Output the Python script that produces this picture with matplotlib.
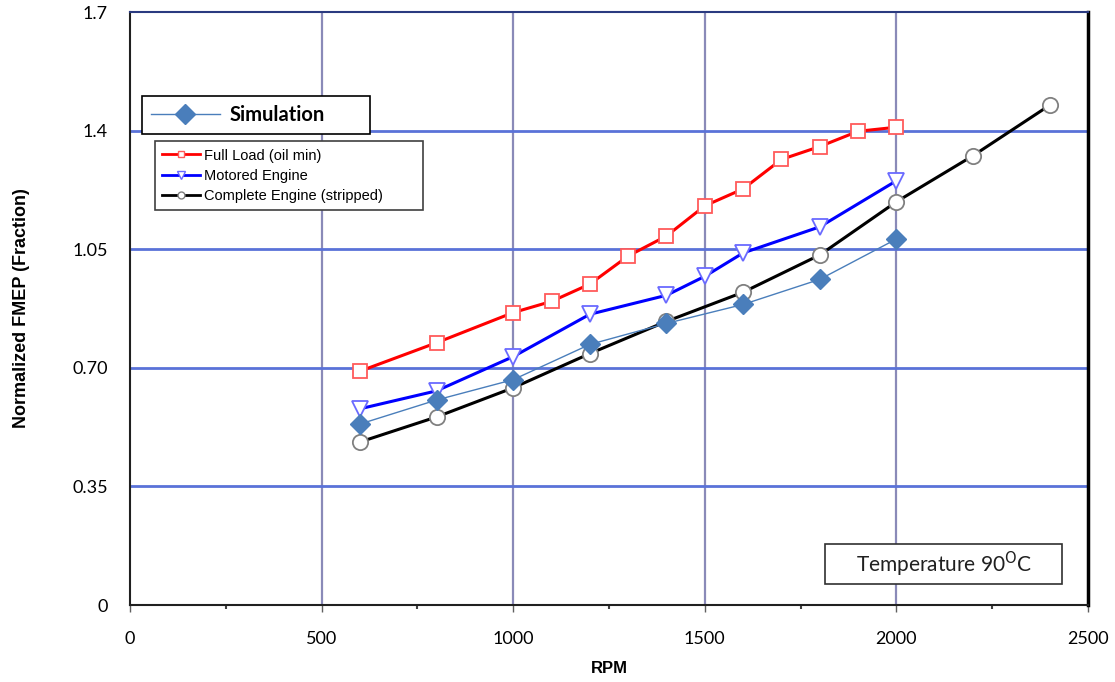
"""FMEP vs RPM comparison chart (normalized, 90 degC)."""
import matplotlib
matplotlib.use("Agg")
import matplotlib.pyplot as plt
from matplotlib.lines import Line2D
from matplotlib.patches import Rectangle
from matplotlib.ticker import MultipleLocator

# --- data ---
rpm_full = [600, 800, 1000, 1100, 1200, 1300, 1400, 1500, 1600, 1700, 1800, 1900, 2000]
fmep_full = [0.690, 0.774, 0.863, 0.896, 0.947, 1.030, 1.089, 1.178, 1.228, 1.315, 1.353, 1.398, 1.410]

rpm_motored = [600, 800, 1000, 1200, 1400, 1500, 1600, 1800, 2000]
fmep_motored = [0.579, 0.632, 0.733, 0.858, 0.914, 0.970, 1.039, 1.116, 1.252]

rpm_complete = [600, 800, 1000, 1200, 1400, 1600, 1800, 2000, 2200, 2400]
fmep_complete = [0.481, 0.555, 0.641, 0.742, 0.837, 0.923, 1.033, 1.190, 1.326, 1.475]

rpm_sim = [600, 800, 1000, 1200, 1400, 1600, 1800, 2000]
fmep_sim = [0.534, 0.605, 0.665, 0.769, 0.831, 0.887, 0.961, 1.080]

y_ticks = [0, 0.35, 0.70, 1.05, 1.4, 1.75]
y_tick_labels = ["0", "0.35", "0.70", "1.05", "1.4", "1.7"]
x_ticks = [0, 500, 1000, 1500, 2000, 2500]
x_tick_labels = ["0", "500", "1000", "1500", "2000", "2500"]

TICK_FONT = ["Lato", "DejaVu Sans"]
ARIAL = ["Liberation Sans", "DejaVu Sans"]

fig = plt.figure(figsize=(11.15, 6.82), dpi=100)
ax = fig.add_axes([0.1166, 0.1129, 0.8592, 0.8695])

ax.set_xlim(0, 2500)
ax.set_ylim(0, 1.75)

# grid
for xv in x_ticks[1:-1]:
    ax.axvline(xv, color="#8a8ab8", linewidth=1.6, zorder=1)
for yv in y_ticks[1:-1]:
    ax.axhline(yv, color="#5a72d8", linewidth=2.0, zorder=1)

ax.plot(rpm_full, fmep_full, color="#ff0000", linewidth=2.2, marker="s",
        markersize=10, markerfacecolor="white", markeredgecolor="#ff5a5a",
        markeredgewidth=1.3, zorder=3, label="Full Load (oil min)")
ax.plot(rpm_motored, fmep_motored, color="#0000ff", linewidth=2.2, marker="v",
        markersize=11, markerfacecolor="white", markeredgecolor="#6a6aff",
        markeredgewidth=1.3, zorder=3, label="Motored Engine")
ax.plot(rpm_complete, fmep_complete, color="#000000", linewidth=2.2, marker="o",
        markersize=11, markerfacecolor="white", markeredgecolor="#808080",
        markeredgewidth=1.3, zorder=3, label="Complete Engine (stripped)")
ax.plot(rpm_sim, fmep_sim, color="#4a7ebb", linewidth=1.0, marker="D",
        markersize=10, markerfacecolor="#4a7ebb", markeredgecolor="#4a7ebb",
        zorder=4, label="Simulation")

# ticks
ax.set_xticks(x_ticks)
ax.set_xticklabels(x_tick_labels, fontsize=13, family=TICK_FONT)
ax.xaxis.set_minor_locator(MultipleLocator(250))
ax.tick_params(axis="x", which="major", direction="out", length=5, width=1,
               color="#606060", pad=14)
ax.tick_params(axis="x", which="minor", direction="out", length=3, width=1.5,
               color="#404040")
ax.set_yticks(y_ticks)
ax.set_yticklabels(y_tick_labels, fontsize=13, family=TICK_FONT)
ax.tick_params(axis="y", length=0, pad=16)

ax.set_xlabel("RPM", fontsize=12, fontweight="bold", family=ARIAL, labelpad=10)
ax.set_ylabel("Normalized FMEP (Fraction)", fontsize=13, fontweight="bold",
              family=ARIAL)
ax.yaxis.set_label_coords(-0.104, 0.5)

for side in ["left", "bottom"]:
    ax.spines[side].set_color("#202020")
    ax.spines[side].set_linewidth(1.5)
ax.spines["right"].set_color("#000000")
ax.spines["right"].set_linewidth(2.5)
ax.spines["top"].set_color("#2a3a80")
ax.spines["top"].set_linewidth(1.5)

# legends
h_sim = [Line2D([], [], color="#4a7ebb", linewidth=1.0, marker="D",
                markersize=10, markerfacecolor="#4a7ebb", markeredgecolor="#4a7ebb")]
leg1 = ax.legend(h_sim, ["Simulation"], loc="upper left",
                 bbox_to_anchor=(0.0125, 0.858, 0.238, 0.0), mode="expand",
                 prop={"family": ["Lato", "DejaVu Sans"], "weight": "bold", "size": 14.5},
                 frameon=True, fancybox=False, handlelength=3.4, borderpad=0.45,
                 borderaxespad=0, handletextpad=0.5)
leg1.get_frame().set_edgecolor("#000000")
leg1.get_frame().set_linewidth(1.2)
leg1.get_frame().set_alpha(1)
leg1.set_zorder(6)
ax.add_artist(leg1)

h_main = [
    Line2D([], [], color="#ff0000", linewidth=2, marker="s", markersize=5,
           markerfacecolor="white", markeredgecolor="#ff5a5a"),
    Line2D([], [], color="#0000ff", linewidth=2, marker="v", markersize=6,
           markerfacecolor="white", markeredgecolor="#6a6aff"),
    Line2D([], [], color="#000000", linewidth=2, marker="o", markersize=5,
           markerfacecolor="white", markeredgecolor="#808080"),
]
leg2 = ax.legend(h_main, ["Full Load (oil min)", "Motored Engine",
                          "Complete Engine (stripped)"],
                 loc="upper left", bbox_to_anchor=(0.026, 0.782, 0.28, 0.0),
                 mode="expand", prop={"family": ARIAL, "size": 10.5},
                 frameon=True, fancybox=False, handlelength=2.6, borderpad=0.5,
                 borderaxespad=0, labelspacing=0.42, handletextpad=0.25)
leg2.get_frame().set_edgecolor("#404040")
leg2.get_frame().set_linewidth(1.2)
leg2.get_frame().set_alpha(1)
leg2.set_zorder(6)

# temperature note
ax.add_patch(Rectangle((0.7255, 0.0354), 0.2475, 0.0675, transform=ax.transAxes,
                       facecolor="white", edgecolor="#303030", linewidth=1.2,
                       zorder=5))
ax.text(0.8495, 0.069, "Temperature 90$^{\\mathrm{O}}$C", transform=ax.transAxes,
        ha="center", va="center", fontsize=15, family=TICK_FONT, zorder=6,
        color="#202020")

fig.savefig("out.png", dpi=100)
